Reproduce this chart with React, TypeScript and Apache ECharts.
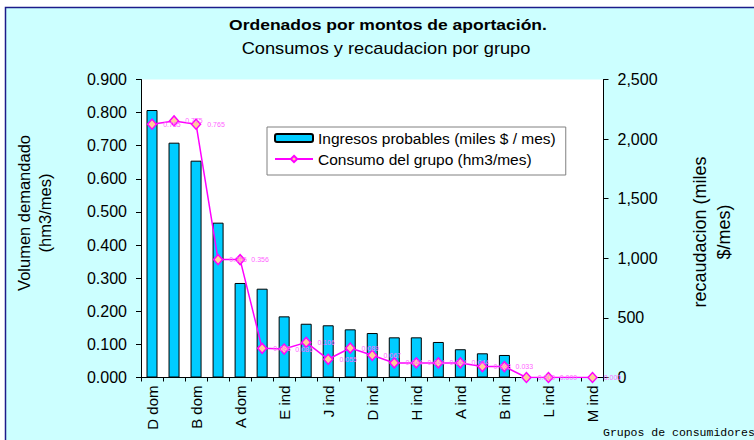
import React, { useEffect, useRef } from "react";
import * as echarts from "echarts";

const FONT = "'Liberation Sans', Arial, sans-serif";

const categories = [
  "D dom", "C dom", "B dom", "E dom", "A dom", "F ind", "E ind", "G ind", "J ind", "C ind", "D ind",
  "I ind", "H ind", "K ind", "A ind", "N ind", "B ind", "O ind", "L ind", "P ind", "M ind",
];

// Ingresos probables (miles $ / mes) — right axis
const ingresos = [2244, 1970, 1819, 1299, 793, 745, 513, 451, 438, 404, 373, 337, 337, 298, 237, 203, 189, 0, 0, 0, 0];

// Consumo del grupo (hm3/mes) — left axis
const consumo = [0.765, 0.775, 0.765, 0.356, 0.356, 0.088, 0.086, 0.106, 0.055, 0.089, 0.067, 0.044, 0.044, 0.044, 0.044, 0.033, 0.033, 0, 0, null, 0];

const leftTicks = { min: 0, max: 0.9, interval: 0.1 };
const rightTicks = { min: 0, max: 2500, interval: 500 };

const TITLE = "Ordenados por montos de aportación.";
const SUBTITLE = "Consumos y recaudacion por grupo";
const BAR_NAME = "Ingresos probables (miles $ / mes)";
const LINE_NAME = "Consumo del grupo (hm3/mes)";

export default function App() {
  const ref = useRef<HTMLDivElement>(null);
  useEffect(() => {
    const chart = echarts.init(ref.current!, null, { renderer: "svg" });
    chart.setOption({
      animation: false,
      backgroundColor: "#ffffff",
      textStyle: { fontFamily: FONT },
      graphic: [
        {
          type: "rect",
          z: -100,
          shape: { x: 5.5, y: 7.5, width: 760, height: 450 },
          style: { fill: "#CCFFFF", stroke: "#1C1C8A", lineWidth: 1.5 },
        },
        {
          type: "text",
          x: 388,
          y: 25,
          scaleX: 1.13,
          z: 100,
          style: {
            text: TITLE, fontSize: 15.5, fontWeight: "bold", fontFamily: FONT, fill: "#000",
            align: "center", verticalAlign: "middle", textAlign: "center", textVerticalAlign: "middle",
          },
        },
        {
          type: "text",
          x: 386,
          y: 48,
          scaleX: 1.14,
          z: 100,
          style: {
            text: SUBTITLE, fontSize: 16, fontFamily: FONT, fill: "#000",
            align: "center", verticalAlign: "middle", textAlign: "center", textVerticalAlign: "middle",
          },
        },
        {
          type: "text",
          x: 34.5,
          y: 213,
          rotation: Math.PI / 2,
          z: 100,
          style: {
            text: "Volumen demandado\n(hm3/mes)", fontSize: 16.5, lineHeight: 21, fontFamily: FONT, fill: "#000",
            align: "center", verticalAlign: "middle", textAlign: "center", textVerticalAlign: "middle",
          },
        },
        {
          type: "text",
          x: 712,
          y: 232,
          rotation: Math.PI / 2,
          z: 100,
          style: {
            text: "recaudacion (miles\n$/mes)", fontSize: 18, lineHeight: 24, fontFamily: FONT, fill: "#000",
            align: "center", verticalAlign: "middle", textAlign: "center", textVerticalAlign: "middle",
          },
        },
        {
          type: "text",
          x: 603,
          y: 432,
          z: 100,
          style: {
            text: "Grupos de consumidores", fontSize: 11.5, fontFamily: "'Liberation Mono', monospace", fill: "#000",
            align: "left", verticalAlign: "middle", textAlign: "left", textVerticalAlign: "middle",
          },
        },
      ],
      legend: {
        show: true,
        orient: "vertical",
        left: 267,
        top: 127,
        padding: [3, 10, 8, 7],
        itemGap: 5,
        itemWidth: 38,
        itemHeight: 8,
        backgroundColor: "#ffffff",
        borderColor: "#808080",
        borderWidth: 1,
        borderRadius: 0,
        selectedMode: false,
        textStyle: { fontSize: 15.5, color: "#000", fontFamily: FONT },
        data: [BAR_NAME, LINE_NAME],
      },
      grid: {
        left: 141,
        top: 79.5,
        width: 462.5,
        height: 298,
        show: true,
        backgroundColor: "#ffffff",
        borderWidth: 0,
      },
      xAxis: {
        type: "category",
        data: categories,
        boundaryGap: true,
        axisLine: { show: true, lineStyle: { color: "#000", width: 1 } },
        axisTick: { show: true, interval: 0, length: 4, lineStyle: { color: "#000" } },
        axisLabel: { interval: 1, rotate: 90, fontSize: 15, color: "#000", margin: 8, fontFamily: FONT },
        splitLine: { show: false },
      },
      yAxis: [
        {
          type: "value",
          position: "left",
          ...leftTicks,
          axisLine: { show: true, lineStyle: { color: "#000", width: 1 } },
          axisTick: { show: true, length: 5, lineStyle: { color: "#000" } },
          splitLine: { show: false },
          axisLabel: {
            formatter: (v: number) => v.toFixed(3),
            fontSize: 16, color: "#000", margin: 14, fontFamily: FONT,
          },
        },
        {
          type: "value",
          position: "right",
          ...rightTicks,
          axisLine: { show: true, lineStyle: { color: "#000", width: 1 } },
          axisTick: { show: true, length: 5, lineStyle: { color: "#000" } },
          splitLine: { show: false },
          axisLabel: {
            formatter: (v: number) => v.toLocaleString("en-US"),
            fontSize: 16, color: "#000", margin: 14, fontFamily: FONT,
          },
        },
      ],
      series: [
        {
          name: BAR_NAME,
          type: "bar",
          yAxisIndex: 1,
          data: ingresos,
          barWidth: 11,
          itemStyle: { color: "#00CCFF", borderColor: "#000", borderWidth: 1 },
          z: 2,
        },
        {
          name: LINE_NAME,
          type: "line",
          yAxisIndex: 0,
          data: consumo,
          connectNulls: true,
          symbol: "diamond",
          symbolSize: [9, 10],
          showAllSymbol: true,
          lineStyle: { color: "#FF00FF", width: 1.5 },
          itemStyle: { color: "#FFCC99", borderColor: "#FF00FF", borderWidth: 1.5 },
          label: {
            show: true,
            position: "right",
            distance: 6,
            fontSize: 7,
            color: "#FF66FF",
            fontFamily: FONT,
            formatter: (p: any) => (p.value == null ? "" : Number(p.value).toFixed(3)),
          },
          z: 3,
        },
      ],
    });
    return () => chart.dispose();
  }, []);
  return <div ref={ref} style={{ position: "absolute", left: 0, top: 0, width: 754, height: 440 }} />;
}
